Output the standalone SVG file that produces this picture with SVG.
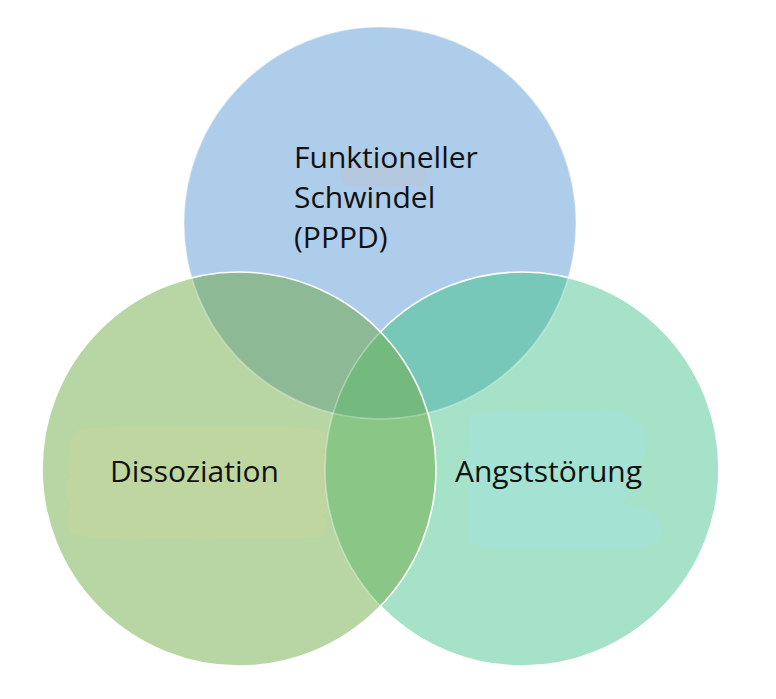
<svg xmlns="http://www.w3.org/2000/svg" width="776" height="699" viewBox="0 0 776 699">
  <style>
    .lbl { font-family: "Open Sans", "Noto Sans", "Liberation Sans", sans-serif; font-size: 30px; fill: #111111; }
    .edge { fill: none; stroke: #ffffff; stroke-width: 1.6; }
  </style>
  <defs>
    <clipPath id="cT"><circle cx="380" cy="223" r="196"/></clipPath>
    <clipPath id="cL"><circle cx="239" cy="469" r="197"/></clipPath>
    <clipPath id="notL"><path clip-rule="evenodd" d="M0,0H776V699H0Z M42,469a197,197 0 1,0 394,0a197,197 0 1,0 -394,0Z"/></clipPath>
  </defs>
  <rect width="776" height="699" fill="#ffffff"/>

  <g id="node-schwindel">
    <circle cx="380" cy="223" r="196" fill="#aecdea"/>
    <path d="M340,172 C338,164 352,163 372,164 C395,165 418,164 425,170 C431,176 428,184 420,186 C398,188 370,187 352,186 C343,185 340,180 340,172Z" fill="#b4c9df"/>
    <text class="lbl" x="294" y="168">Funktioneller</text>
    <text class="lbl" x="294" y="208">Schwindel</text>
    <text class="lbl" x="294" y="248">(PPPD)</text>
  </g>

  <g id="node-dissoziation">
    <circle cx="239" cy="469" r="197" fill="#b8d6a4"/>
    <path d="M80,430 C90,426 140,428 180,427 C230,426 290,425 320,430 C330,433 330,445 322,452 C330,460 330,470 322,476 C332,485 332,510 322,516 C330,524 330,533 318,537 C260,540 190,539 150,539 C110,540 78,538 72,533 C66,527 66,512 72,506 C64,500 64,482 72,476 C66,470 66,460 72,455 C68,448 70,435 80,430Z" fill="#c0d6a1"/>
    <text class="lbl" x="110" y="482">Dissoziation</text>
  </g>

  <g id="node-angst">
    <circle cx="522" cy="469" r="197" fill="#a6e2c8"/>
    <path d="M474,414 C500,411 560,411 600,410 C625,410 632,414 632,422 C645,424 650,440 645,455 C640,465 636,470 632,480 C630,492 628,500 622,504 C640,505 660,514 662,528 C663,542 652,547 640,548 C600,550 540,549 500,548 C478,548 468,544 467,532 C466,500 468,470 470,440 C470,425 468,416 474,414Z" fill="#a4e3d3"/>
    <text class="lbl" x="455" y="482">Angststörung</text>
  </g>

  <g id="overlaps">
    <g clip-path="url(#cT)"><circle cx="239" cy="469" r="197" fill="#8dba94"/></g>
    <g clip-path="url(#cT)"><circle cx="522" cy="469" r="197" fill="#78c8ba"/></g>
    <g clip-path="url(#cL)"><circle cx="522" cy="469" r="197" fill="#8ac787"/></g>
    <g clip-path="url(#cT)"><g clip-path="url(#cL)"><circle cx="522" cy="469" r="197" fill="#74b97e"/></g></g>
  </g>

  <g id="outlines">
    <circle class="edge" cx="380" cy="223" r="196" stroke-opacity="0.3"/>
    <g clip-path="url(#notL)"><circle class="edge" cx="522" cy="469" r="197"/></g>
    <g clip-path="url(#cL)"><circle class="edge" cx="522" cy="469" r="197" stroke-opacity="0.35"/></g>
    <circle class="edge" cx="239" cy="469" r="197"/>
  </g>
</svg>
